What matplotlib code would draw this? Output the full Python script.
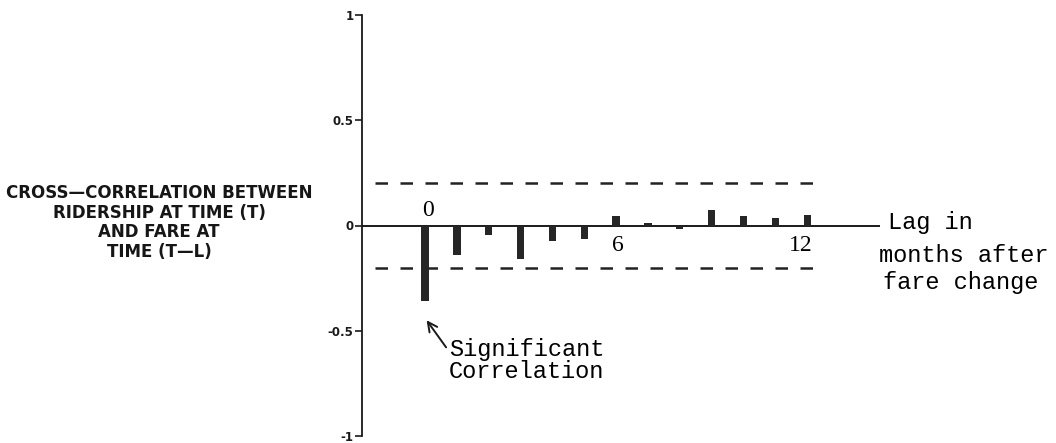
import matplotlib.pyplot as plt
import numpy as np

# cross-correlation of ridership with fare, lags 0..12 months
lags = [0, 1, 2, 3, 4, 5, 6, 7, 8, 9, 10, 11, 12]
ccf = [-0.36, -0.142, -0.047, -0.161, -0.074, -0.066, 0.047, 0.012, -0.019, 0.076, 0.047, 0.035, 0.049]
conf_band = 0.2
yticks = [-1, -0.5, 0, 0.5, 1]
ytick_labels = ['-1', '-0.5', '0', '0.5', '1']
lag_labels = {0: '0', 6: '6', 12: '12'}

W, H = 1056, 443
fig = plt.figure(figsize=(W / 100, H / 100), dpi=100)
# axes placed in pixel terms: y axis at x=362, rows 15..436
ax = fig.add_axes([362 / W, 7 / H, (880 - 362) / W, 421 / H])

lag_px = 31.85
x0 = (362 - 425) / lag_px
x1 = (880 - 425) / lag_px
ax.set_xlim(x0, x1)
ax.set_ylim(-1, 1)

ax.bar(lags, ccf, width=0.23, color='#262626', zorder=3)
ax.axhline(0, color='#1a1a1a', lw=1.4, zorder=2)

dash_x = [(375 - 425) / lag_px, (820 - 425) / lag_px]
for s in (conf_band, -conf_band):
    ax.plot(dash_x, [s, s], color='#222222', lw=1.8, dashes=(5, 5))

for sp in ['top', 'right', 'bottom']:
    ax.spines[sp].set_visible(False)
ax.spines['left'].set_linewidth(1.3)
ax.spines['left'].set_color('#1a1a1a')
ax.set_xticks([])
ax.set_yticks(yticks)
ax.set_yticklabels(ytick_labels, fontsize=8.5, fontweight='bold', family='DejaVu Sans')
ax.tick_params(axis='y', direction='out', length=5, width=1.2, pad=1, colors='#1a1a1a')

# lag numbers written on the axis
serif = ['Liberation Serif', 'DejaVu Serif']
ax.text(0.08, 0.02, lag_labels[0], ha='center', va='bottom', fontsize=17, family=serif)
ax.text(6.05, -0.045, lag_labels[6], ha='center', va='top', fontsize=17, family=serif)
ax.text(11.8, -0.045, lag_labels[12], ha='center', va='top', fontsize=17, family=serif)

mono = ['Liberation Mono', 'DejaVu Sans Mono']
fig.text(888 / W, 1 - 223 / H, 'Lag in', ha='left', va='center', fontsize=17, family=mono)
fig.text(879 / W, 1 - 255 / H, 'months after', ha='left', va='center', fontsize=17, family=mono)
fig.text(883 / W, 1 - 282 / H, 'fare change', ha='left', va='center', fontsize=17, family=mono)

ax.annotate('Significant\nCorrelation', xy=(0.05, -0.45), xytext=(0.75, -0.64),
            ha='left', va='center', fontsize=17, family=mono, linespacing=0.95,
            arrowprops=dict(arrowstyle='->', color='#1a1a1a', lw=1.4,
                            shrinkA=0, shrinkB=0, relpos=(0, 0.7)))

fig.text(159 / W, 1 - 222.5 / H,
         'CROSS\u2014CORRELATION BETWEEN\nRIDERSHIP AT TIME (T)\nAND FARE AT\nTIME (T\u2014L)',
         ha='center', va='center', fontsize=12, fontweight='bold', linespacing=1.1,
         family='DejaVu Sans', color='#161616')

fig.savefig('out.png', dpi=100)
